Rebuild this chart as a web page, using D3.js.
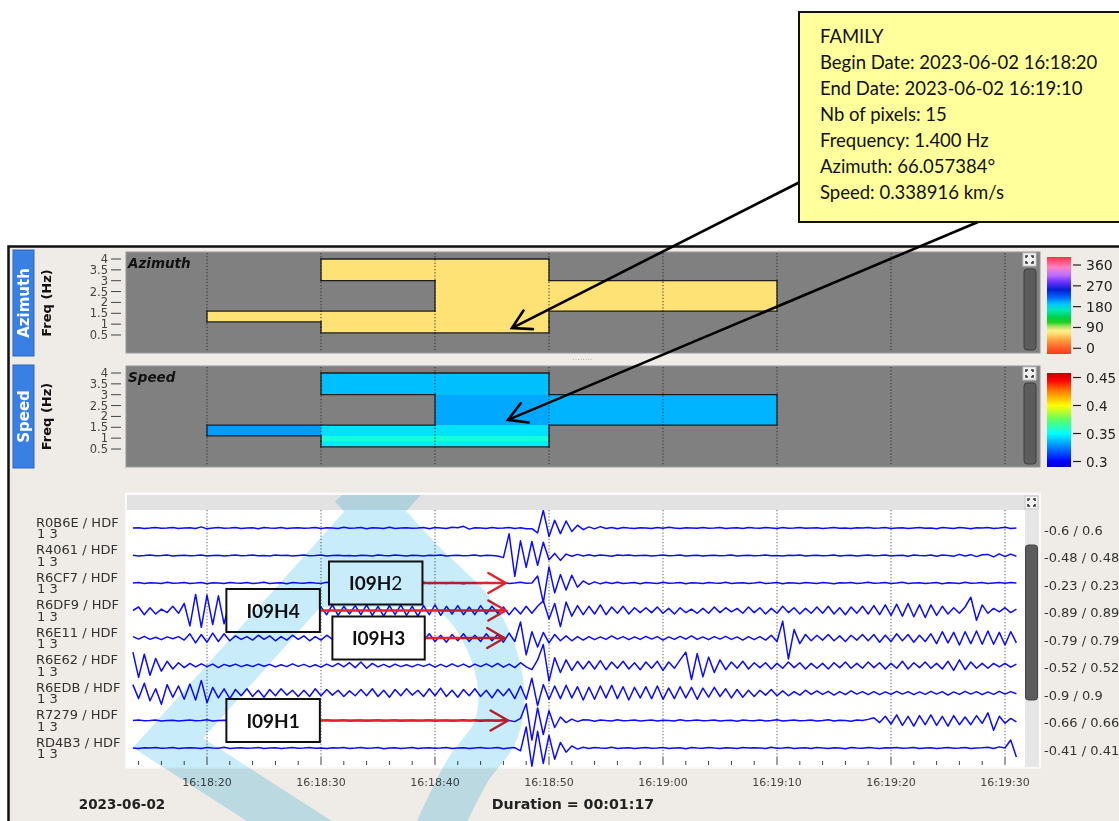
<!DOCTYPE html>
<html>
<head>
<meta charset="utf-8">
<script src="https://cdn.jsdelivr.net/npm/d3@7"></script>
<style>
  html, body { margin: 0; padding: 0; background: #ffffff; }
  svg { display: block; }
</style>
</head>
<body>
<svg id="chart" width="1119" height="821"></svg>
<script>
// ---------------------------------------------------------------
// Data
// ---------------------------------------------------------------
const dayLabel = "2023-06-02";
const durationLabel = "Duration = 00:01:17";
const timeTickLabels = ["16:18:20", "16:18:30", "16:18:40", "16:18:50",
                        "16:19:00", "16:19:10", "16:19:20", "16:19:30"];
const freqTicks = [0.5, 1, 1.5, 2, 2.5, 3, 3.5, 4];

// time-frequency pixels of the detected family
const binStarts = ["16:18:20", "16:18:30", "16:18:40", "16:18:50", "16:19:00"];
const binSeconds = 10;
const bandEdges = [0.6, 0.85, 1.1, 1.6, 3.0, 4.0];       // Hz
const cellBin     = [0, 1, 1, 1, 1, 2, 2, 2, 2, 2, 3, 4];
const cellBand    = [2, 4, 2, 1, 0, 4, 3, 2, 1, 0, 3, 3];
const cellAzimuth = [66, 66, 66, 65, 66, 66, 66, 66, 65, 66, 66, 66];          // degrees
const cellSpeed   = [0.3305, 0.3374, 0.3441, 0.3555, 0.3465, 0.3374,
                     0.3329, 0.3441, 0.3555, 0.3465, 0.3352, 0.3352];          // km/s

const azimuthTicks = [0, 90, 180, 270, 360];
const speedTicks = [0.3, 0.35, 0.4, 0.45];

// waveform channels
const stations = ["R0B6E", "R4061", "R6CF7", "R6DF9", "R6E11", "R6E62", "R6EDB", "R7279", "RD4B3"];
const channelLabel = "HDF";
const channelSub = "1 3";
const clipRanges = [0.6, 0.48, 0.23, 0.89, 0.79, 0.52, 0.9, 0.66, 0.41];
const traceStart = "16:18:13.5";
const traceStep = 0.5; // seconds between samples
// samples in percent of each channel's clip range
const trace_R0B6E = [0,2,-3,0,4,-2,0,3,-4,0, 2,-3,8,-6,0,3,-2,0,4,-3, 0,2,-5,3,0,-2,4,-3,0,2,
  -2,0,3,-4,2,0,-3,5,-2,0, 3,-5,2,0,-3,6,-4,0,2,-2, 0,4,-5,3,0,-3,5,2,12,-8,
  2,0,-3,4,-2,0,3,-4,2,-5, -5,-35,125,-60,55,-40,50,-25,20,-12, 8,-6,10,-4,3,-5,4,0,-3,2,
  0,-4,3,-2,5,0,-3,2,0,-2, 3,-2,0,4,-3,0,2,-4,3,0, -2,3,0,-3,4,-2,0,3,-2,0,
  2,-3,0,4,-2,0,-3,2,0,3, -2,0,3,-3,0,2,-4,0,3,-2, 0,-5,3,0,-3,4,0,-5,2,0, 3,-4,0,5,-3,0];
const trace_R4061 = [2,-3,0,4,-2,0,3,-3,0,2, -2,0,3,-4,0,2,-3,0,4,-2, 0,3,-2,0,-4,3,0,2,-3,0,
  3,-2,0,4,-3,0,2,-2,0,-3, 2,0,-3,4,0,-2,3,0,-4,2, 0,-3,2,0,4,-3,0,2,-2,0,
  3,-4,2,0,-3,-15,155,-150,105,-85, 100,-70,95,-30,15,-35,10,-5,8,-3, 5,-4,3,0,-5,4,0,3,-2,0,
  2,-3,0,4,-2,0,3,-3,0,2, -3,0,2,-2,0,4,-3,0,2,-2, 0,3,-2,0,-3,2,0,4,-3,0,
  2,-2,0,3,-4,0,2,-3,0,3, -2,0,4,-3,0,2,-5,3,0,-2, 4,-6,3,0,-5,8,-4,6,-8,5, 8,-10,12,-8,10,-5];
const trace_R6CF7 = [0,3,-4,2,0,-3,5,-2,0,3, -3,0,4,-5,2,0,-3,4,0,-2, 3,-4,0,5,-3,0,2,-5,3,0,
  -2,4,0,-3,5,-2,0,3,-4,0, 4,-3,0,2,-5,3,0,-2,4,-3, 0,5,-3,0,2,-4,3,0,-5,2,
  0,-3,4,0,-2,3,-4,0,5,-2, 0,50,-140,115,-70,60,-50,55,-30,15, -10,8,-6,5,-4,6,-3,0,4,-5,
  3,0,-4,5,-2,0,3,-5,2,0, -3,4,0,-2,5,-3,0,2,-4,0, 5,-3,0,4,-5,2,0,-3,4,0,
  -4,3,0,-5,2,0,3,-4,0,5, -2,0,4,-3,0,5,-4,0,2,-3, 0,4,-5,2,0,-3,5,-2,0,3, -4,0,3,-2,4,0];
const trace_R6DF9 = [0,25,-30,20,-25,10,-15,30,-20,50, -110,115,-120,110,-100,105,-95,70,-60,50,
  -40,45,-35,40,-45,30,-40,35,-30,40, -35,30,-40,25,-30,40,-35,30,-25,35,
  -30,40,-35,30,-40,35,-30,40,-35,30, -40,35,-30,40,-35,30,-25,35,-30,25,
  -30,35,-25,30,-20,25,-30,20,-25,30, -20,30,70,-60,50,-115,60,-40,35,-30,
  30,-25,40,-30,25,-20,30,-25,20,-15, 20,-15,25,-20,15,-25,20,-15,10,-20,
  15,-20,25,-15,20,-10,15,-20,25,-15, 20,-25,15,-20,30,-15,20,-25,15,-20,
  25,-20,30,-25,20,-30,25,-20,30,-25, 35,-30,40,-35,45,-40,50,-45,40,-50,
  40,-35,30,-25,20,-20,25,95,-70,40, -20,15,-10,20,-15,10];
const trace_R6E11 = [10,-8,12,-10,5,-12,8,-5,10,-15, 30,-35,25,-30,35,-25,30,-20,15,-10,
  10,-15,20,-10,15,-20,10,-15,20,-10, 15,-20,10,-15,20,-10,15,-20,25,-15,
  20,-15,10,-20,15,-25,20,-10,15,-20, 25,-20,30,-25,20,-30,25,-20,30,-25,
  20,-25,30,-20,25,-30,35,-25,115,-120, 45,-65,40,-35,25,-20,15,-20,10,-15,
  10,-12,8,-10,15,-8,10,-12,8,-10, 12,-8,10,-15,8,-10,12,-8,15,-10,
  8,-12,10,-8,12,-10,8,-15,10,-12, 10,-15,20,-25,120,-150,60,-40,25,-20,
  20,-15,25,-20,15,-25,20,-15,25,-20, 25,-30,20,-25,30,-20,25,-30,20,-25,
  30,-40,45,-35,40,-50,45,-40,50,-45, 50,-45,40,-50,45,-35];
const trace_R6E62 = [95,-85,80,-70,50,-40,30,-25,20,-15, 15,-10,12,-8,10,-15,8,-5,10,-8,
  5,-8,10,-5,8,-10,5,-8,12,-6, 8,-10,5,-12,10,-8,15,-10,20,-15,
  25,-20,15,-10,8,-12,10,-8,5,-10, 8,-6,10,-12,8,-10,12,-8,10,-12,
  10,-8,12,-10,15,-12,10,-15,20,-10, -30,40,150,-110,55,-50,40,-35,30,-25,
  30,-25,35,-30,25,-20,30,-25,20,-30, 25,-20,30,-35,25,-20,40,95,-100,85,
  -80,60,-50,40,-30,25,-20,30,-25,20, -15,20,-25,15,-20,25,-15,20,-25,15,
  -20,15,-25,20,-15,25,-20,15,-20,25, -15,20,-25,15,-20,30,-25,20,-15,25,
  -20,15,-25,30,-35,40,-30,25,-20,15, -20,15,-10,15,-12,10];
const trace_R6EDB = [60,-40,70,-55,30,-80,60,-30,50,-45, 65,-50,90,-70,40,-35,30,-40,25,-20,
  30,-25,20,-30,25,-20,30,-15,20,-25, 20,-25,30,-20,25,-15,20,-25,15,-20,
  25,-20,30,-25,20,-30,25,-20,30,-15, 20,-25,30,-20,35,-25,20,-30,25,-20,
  30,-25,20,-35,25,-20,30,-40,50,-45, 105,-90,60,-45,50,-40,55,-35,45,-50,
  40,-45,50,-35,55,-40,45,-50,40,-35, 45,-40,50,-45,35,-40,45,-35,40,-45,
  35,-30,40,-25,30,-35,25,-30,20,-25, 20,-15,25,-20,15,-20,10,-15,20,-10,
  15,-10,12,-15,10,-12,15,-8,10,-12, 10,-12,8,-10,12,-8,10,-12,8,-10,
  12,-8,10,-15,8,-10,12,-8,10,-12, 8,-10,12,-8,10,-5];
const trace_R7279 = [0,3,-2,0,4,-3,0,2,-4,0, 3,-2,0,5,-3,0,2,-2,0,3, -3,0,2,-4,0,3,-2,0,4,-3,
  0,2,-3,0,4,-2,0,3,-3,0, 2,-4,0,3,-2,0,4,-3,0,2, -2,0,3,-4,0,2,-3,0,5,-2,
  3,-5,2,0,-4,3,0,-8,15,120, -140,90,-100,70,-50,25,-15,10,-8,5, 3,-6,4,0,-3,5,-2,0,4,-3,
  0,3,-4,2,0,-3,5,-2,0,3, -2,0,4,-3,0,2,-5,3,0,-2, 4,-3,0,5,-4,0,3,-2,0,4,
  -3,0,5,-4,2,0,-6,4,0,8, 20,-15,30,-25,40,-35,30,-40,35,-30,
  40,-35,30,-40,35,-30,25,-30,35,-20, 55,-70,30,-20,15,-10];
const trace_RD4B3 = [0,-3,2,0,4,-2,0,3,-3,0, 2,0,-4,3,0,-2,5,-3,0,2, -2,0,3,-4,0,2,-3,0,4,-2,
  0,3,-2,0,-4,2,0,3,-3,0, 4,-2,0,3,-5,0,2,-3,0,4, -3,0,2,-2,0,4,-3,0,2,-4,
  0,3,-2,0,4,-5,0,3,-20,150, -130,120,-110,90,-80,40,-30,15,-8,5, -4,3,0,-2,5,-3,0,2,-4,0,
  3,-2,0,4,-3,0,2,-5,3,0, -2,4,0,-3,2,0,-4,3,0,2, 0,-3,5,-2,0,3,-4,0,2,-3,
  4,0,-3,2,0,-5,3,0,-2,4, 0,-3,2,0,4,-2,0,3,-4,0, 2,-3,0,4,-2,0,3,-3,0,2, 5,-3,8,0,57,-64];
const traces = [trace_R0B6E, trace_R4061, trace_R6CF7, trace_R6DF9, trace_R6E11,
                trace_R6E62, trace_R6EDB, trace_R7279, trace_RD4B3];

// picked arrivals: label, channel index, box span (time), arrow tip (time)
const pickLabels = ["I09H2", "I09H4", "I09H3", "I09H1"];
const pickChannel = [2, 3, 4, 7];
const pickBoxFrom = ["16:18:30.7", "16:18:21.7", "16:18:31.0", "16:18:21.7"];
const pickBoxTo   = ["16:18:38.9", "16:18:29.9", "16:18:39.1", "16:18:29.9"];
const pickTip     = ["16:18:46.2", "16:18:46.2", "16:18:46.1", "16:18:46.4"];

// family summary
const calloutLines = ["FAMILY",
  "Begin Date: 2023-06-02 16:18:20",
  "End Date: 2023-06-02 16:19:10",
  "Nb of pixels: 15",
  "Frequency: 1.400 Hz",
  "Azimuth: 66.057384\u00B0",
  "Speed: 0.338916 km/s"];
// where the two pointers land: [time, frequency]
const pointerAzimuth = ["16:18:46.75", 0.82];
const pointerSpeed = ["16:18:46.4", 1.84];

// ---------------------------------------------------------------
// Helpers & scales
// ---------------------------------------------------------------
const secs = s => { const p = s.split(":").map(Number); return p[0] * 3600 + p[1] * 60 + p[2]; };
const svg = d3.select("#chart");
const sans = "'DejaVu Sans', sans-serif";
const office = "Lato, 'Open Sans', sans-serif";

const x = d3.scaleLinear()
  .domain([secs("16:18:20"), secs("16:19:30")])
  .range([207, 1005]);

const PANEL_L = 126, PANEL_R = 1040, PANEL_H = 101;
const freqScale = top => d3.scaleLinear().domain([0.5, 4]).range([top + 83, top + 7]);

// colour maps
const azStops = [[-30, "#ff3a18"], [0, "#ff5a28"], [36, "#ffa040"], [60, "#ffd868"],
  [75, "#fff08c"], [95, "#a8e064"], [112, "#20d020"], [131, "#00d040"], [165, "#00e8b0"],
  [191, "#00c8ff"], [222, "#0060ff"], [252, "#0020d0"], [286, "#6a30ff"], [317, "#c070ff"],
  [351, "#ff80c0"], [395, "#ff3048"]];
const spStops = [[0.289, "#0000d0"], [0.3, "#0000ff"], [0.325, "#0080ff"], [0.35, "#00ffff"],
  [0.375, "#60ff60"], [0.4, "#ffff00"], [0.425, "#ff8000"], [0.445, "#ff0000"], [0.457, "#c00000"]];
const azColor = d3.scaleLinear().domain(azStops.map(d => d[0])).range(azStops.map(d => d[1]))
  .interpolate(d3.interpolateRgb).clamp(true);
const spColor = d3.scaleLinear().domain(spStops.map(d => d[0])).range(spStops.map(d => d[1]))
  .interpolate(d3.interpolateRgb).clamp(true);

const defs = svg.append("defs");

// ---------------------------------------------------------------
// Window frame
// ---------------------------------------------------------------
svg.append("rect").attr("x", 8.5).attr("y", 246.5).attr("width", 1125).attr("height", 590)
  .attr("fill", "#efebe7").attr("stroke", "#111").attr("stroke-width", 2.5);

// side tabs
function tab(top, h, label) {
  svg.append("rect").attr("x", 13).attr("y", top).attr("width", 21).attr("height", h)
    .attr("fill", "#3a80e4").attr("stroke", "#2b67c6").attr("stroke-width", 1);
  svg.append("text").attr("transform", `translate(29,${top + h / 2}) rotate(-90)`)
    .attr("text-anchor", "middle").attr("font-family", sans).attr("font-weight", "bold")
    .attr("font-size", 15).attr("fill", "#fff").text(label);
  svg.append("text").attr("transform", `translate(51,${top + h / 2}) rotate(-90)`)
    .attr("text-anchor", "middle").attr("font-family", sans).attr("font-weight", "bold")
    .attr("font-size", 13).attr("fill", "#111").text("Freq (Hz)");
}

function expandIcon(x0, y0) {
  const g = svg.append("g");
  g.append("rect").attr("x", x0).attr("y", y0).attr("width", 13).attr("height", 13)
    .attr("fill", "#f1f1f1").attr("stroke", "#c8c8c8");
  const c = [[x0 + 3, y0 + 5, x0 + 3, y0 + 3, x0 + 5, y0 + 3], [x0 + 8, y0 + 3, x0 + 10, y0 + 3, x0 + 10, y0 + 5],
             [x0 + 3, y0 + 8, x0 + 3, y0 + 10, x0 + 5, y0 + 10], [x0 + 8, y0 + 10, x0 + 10, y0 + 10, x0 + 10, y0 + 8]];
  c.forEach(p => g.append("path").attr("d", `M${p[0]},${p[1]}L${p[2]},${p[3]}L${p[4]},${p[5]}`)
    .attr("fill", "none").attr("stroke", "#333").attr("stroke-width", 1.6));
}

// ---------------------------------------------------------------
// Azimuth / Speed panels
// ---------------------------------------------------------------
const cellKey = new Set(cellBin.map((b, i) => b + "-" + cellBand[i]));

function panel(top, title, values, colour) {
  const y = freqScale(top);
  const g = svg.append("g");
  g.append("rect").attr("x", PANEL_L).attr("y", top).attr("width", PANEL_R - PANEL_L)
    .attr("height", PANEL_H).attr("fill", "#808080").attr("stroke", "#9a9a9a").attr("stroke-width", 1);

  // pixels
  const cells = cellBin.map((b, i) => ({
    t0: secs(binStarts[b]), t1: secs(binStarts[b]) + binSeconds,
    f0: bandEdges[cellBand[i]], f1: bandEdges[cellBand[i] + 1],
    bin: b, band: cellBand[i], v: values[i]
  }));
  g.selectAll("rect.cell").data(cells).join("rect").attr("class", "cell")
    .attr("x", d => x(d.t0)).attr("width", d => x(d.t1) - x(d.t0))
    .attr("y", d => y(d.f1)).attr("height", d => y(d.f0) - y(d.f1))
    .attr("fill", d => colour(d.v)).attr("shape-rendering", "crispEdges");

  // outline of the family footprint
  const edges = [];
  cells.forEach(d => {
    const X0 = x(d.t0), X1 = x(d.t1), Y0 = y(d.f1), Y1 = y(d.f0);
    if (!cellKey.has((d.bin - 1) + "-" + d.band)) edges.push([X0, Y0, X0, Y1]);
    if (!cellKey.has((d.bin + 1) + "-" + d.band)) edges.push([X1, Y0, X1, Y1]);
    if (!cellKey.has(d.bin + "-" + (d.band + 1))) edges.push([X0, Y0, X1, Y0]);
    if (!cellKey.has(d.bin + "-" + (d.band - 1))) edges.push([X0, Y1, X1, Y1]);
  });
  g.selectAll("line.edge").data(edges).join("line").attr("class", "edge")
    .attr("x1", d => d[0]).attr("y1", d => d[1]).attr("x2", d => d[2]).attr("y2", d => d[3])
    .attr("stroke", "#1e1e1e").attr("stroke-width", 1.3).attr("stroke-linecap", "square");

  // time grid
  g.selectAll("line.grid").data(timeTickLabels).join("line").attr("class", "grid")
    .attr("x1", d => x(secs(d))).attr("x2", d => x(secs(d)))
    .attr("y1", top + 1).attr("y2", top + PANEL_H - 1)
    .attr("stroke", "#2b2b2b").attr("stroke-width", 1).attr("stroke-dasharray", "1.2,2");

  // frequency axis
  const ax = svg.append("g");
  ax.selectAll("line").data(freqTicks).join("line")
    .attr("x1", 111).attr("x2", 121).attr("y1", d => y(d)).attr("y2", d => y(d))
    .attr("stroke", "#444").attr("stroke-width", 1);
  ax.selectAll("text").data(freqTicks).join("text")
    .attr("x", 108).attr("y", d => y(d) + 4).attr("text-anchor", "end")
    .attr("font-family", sans).attr("font-size", 11.5).attr("fill", "#444").text(d => d);

  g.append("text").attr("x", 128).attr("y", top + 16).attr("font-family", sans)
    .attr("font-weight", "bold").attr("font-style", "italic").attr("font-size", 13.5)
    .attr("fill", "#111").text(title);

  // scroll column
  expandIcon(1023, top + 1);
  g.append("rect").attr("x", 1024).attr("y", top + 17).attr("width", 12).attr("height", 81)
    .attr("rx", 3).attr("fill", "#5c5c5c").attr("stroke", "#3e3e3e");
}

tab(250, 106, "Azimuth");
tab(365, 103, "Speed");
panel(252, "Azimuth", cellAzimuth, azColor);
panel(366, "Speed", cellSpeed, spColor);

// splitter grip between the two panels
svg.append("line").attr("x1", 573).attr("x2", 593).attr("y1", 359.5).attr("y2", 359.5)
  .attr("stroke", "#b9b5b0").attr("stroke-dasharray", "1,1.5");

// ---------------------------------------------------------------
// Colour bars
// ---------------------------------------------------------------
function colourBar(id, stops, top, bottom, tickScale, ticks, fontSize) {
  const grad = defs.append("linearGradient").attr("id", id)
    .attr("x1", 0).attr("y1", 1).attr("x2", 0).attr("y2", 0);
  const vBot = tickScale.invert(bottom), vTop = tickScale.invert(top);
  stops.forEach(s => grad.append("stop")
    .attr("offset", Math.max(0, Math.min(1, (s[0] - vBot) / (vTop - vBot))))
    .attr("stop-color", s[1]));
  svg.append("rect").attr("x", 1047).attr("y", top).attr("width", 24).attr("height", bottom - top)
    .attr("fill", `url(#${id})`);
  const g = svg.append("g");
  g.selectAll("line").data(ticks).join("line")
    .attr("x1", 1073).attr("x2", 1081).attr("y1", d => tickScale(d)).attr("y2", d => tickScale(d))
    .attr("stroke", "#222").attr("stroke-width", 1.2);
  g.selectAll("text").data(ticks).join("text")
    .attr("x", 1086).attr("y", d => tickScale(d) + 5).attr("font-family", sans)
    .attr("font-size", fontSize).attr("fill", "#222").text(d => d);
}
colourBar("azGrad", azStops, 257, 354, d3.scaleLinear().domain([0, 360]).range([348.3, 265]), azimuthTicks, 14);
colourBar("spGrad", spStops, 373, 467, d3.scaleLinear().domain([0.3, 0.45]).range([461.5, 377.5]), speedTicks, 13.5);

// ---------------------------------------------------------------
// Waveform panel
// ---------------------------------------------------------------
const W_TOP = 510, W_BOT = 767, W_L = 127, W_R = 1025;
svg.append("rect").attr("x", 125).attr("y", 492.5).attr("width", 916).attr("height", 276)
  .attr("fill", "#fbfbfb");
svg.append("rect").attr("x", W_L).attr("y", 495).attr("width", W_R - W_L).attr("height", 15)
  .attr("fill", "#e2e2e2");
svg.append("rect").attr("x", W_L).attr("y", W_TOP).attr("width", W_R - W_L).attr("height", W_BOT - W_TOP)
  .attr("fill", "#ffffff");
svg.append("rect").attr("x", W_R).attr("y", 495).attr("width", 14).attr("height", 272)
  .attr("fill", "#e6e6e6");
expandIcon(1025, 496);
svg.append("rect").attr("x", 1025.5).attr("y", 545).attr("width", 12).attr("height", 155)
  .attr("rx", 3).attr("fill", "#5c5c5c").attr("stroke", "#454545");

// grid
svg.append("g").selectAll("line").data(timeTickLabels).join("line")
  .attr("x1", d => x(secs(d))).attr("x2", d => x(secs(d)))
  .attr("y1", W_TOP).attr("y2", 757)
  .attr("stroke", "#555").attr("stroke-width", 1).attr("stroke-dasharray", "1.2,2");

// time ticks every 2 s, long ones every 10 s
const minor = d3.range(secs("16:18:14"), secs("16:19:31"), 2);
svg.append("g").selectAll("line").data(minor).join("line")
  .attr("x1", d => x(d)).attr("x2", d => x(d))
  .attr("y1", d => ((d - secs("16:18:20")) % 10 === 0) ? 757 : 761).attr("y2", 765)
  .attr("stroke", "#444").attr("stroke-width", 1);
svg.append("g").selectAll("text").data(timeTickLabels).join("text")
  .attr("x", d => x(secs(d))).attr("y", 786).attr("text-anchor", "middle")
  .attr("font-family", sans).attr("font-size", 11).attr("fill", "#444").text(d => d);

// traces
const baseY = d3.scaleLinear().domain([0, stations.length - 1]).range([528, 748]);
const AMP = 14; // px per 100 % of the clip range
const t0 = secs(traceStart);
defs.append("clipPath").attr("id", "wclip").append("rect")
  .attr("x", W_L).attr("y", W_TOP).attr("width", W_R - W_L).attr("height", W_BOT - W_TOP);
const traceG = svg.append("g").attr("clip-path", "url(#wclip)");
traces.forEach((tr, k) => {
  const line = d3.line().x((v, i) => x(t0 + i * traceStep)).y(v => baseY(k) - v / 100 * AMP);
  traceG.append("path").attr("d", line(tr)).attr("fill", "none")
    .attr("stroke", "#0b0bff").attr("stroke-width", 1.5).attr("stroke-linejoin", "round");
});

// channel labels
const lab = svg.append("g").attr("font-family", sans).attr("font-size", 13).attr("fill", "#333");
stations.forEach((s, k) => {
  lab.append("text").attr("x", 36).attr("y", baseY(k) - 1.5).text(`${s} / ${channelLabel}`);
  lab.append("text").attr("x", 37).attr("y", baseY(k) + 10).text(channelSub);
  lab.append("text").attr("x", 1044).attr("y", baseY(k) + 6.5).text(`-${clipRanges[k]} / ${clipRanges[k]}`);
});

svg.append("text").attr("x", 122).attr("y", 809).attr("text-anchor", "middle")
  .attr("font-family", sans).attr("font-weight", "bold").attr("font-size", 13.5)
  .attr("fill", "#222").text(dayLabel);
svg.append("text").attr("x", 573).attr("y", 809).attr("text-anchor", "middle")
  .attr("font-family", sans).attr("font-weight", "bold").attr("font-size", 14.2)
  .attr("fill", "#222").text(durationLabel);

// ---------------------------------------------------------------
// Picked arrivals
// ---------------------------------------------------------------
function vHead(g, tipX, tipY, ang, len, spread, colour, width) {
  // ang: direction from the tip back along the shaft
  const a1 = ang + spread, a2 = ang - spread;
  g.append("path")
    .attr("d", `M${tipX + len * Math.cos(a1)},${tipY + len * Math.sin(a1)}L${tipX},${tipY}` +
               `L${tipX + len * Math.cos(a2)},${tipY + len * Math.sin(a2)}`)
    .attr("fill", "none").attr("stroke", colour).attr("stroke-width", width)
    .attr("stroke-linecap", "round").attr("stroke-linejoin", "miter");
}
const picks = svg.append("g");
pickLabels.forEach((lbl, i) => {
  const cy = baseY(pickChannel[i]);
  const bx0 = x(secs(pickBoxFrom[i])), bx1 = x(secs(pickBoxTo[i]));
  const tip = x(secs(pickTip[i]));
  picks.append("line").attr("x1", bx1).attr("x2", tip - 1).attr("y1", cy).attr("y2", cy)
    .attr("stroke", "#e8202a").attr("stroke-width", 2.6);
  vHead(picks, tip, cy, Math.PI, 20, 0.52, "#e8202a", 2.4);
  picks.append("rect").attr("x", bx0).attr("y", cy - 21.5).attr("width", bx1 - bx0).attr("height", 43)
    .attr("fill", "#fff").attr("stroke", "#111").attr("stroke-width", 2);
  const t = picks.append("text").attr("x", (bx0 + bx1) / 2).attr("y", cy + 7)
    .attr("text-anchor", "middle").attr("font-family", office).attr("font-size", 19)
    .attr("font-weight", "bold").attr("fill", "#111");
  if (lbl === "I09H2") {
    t.append("tspan").text(lbl.slice(0, 4));
    t.append("tspan").attr("font-weight", "normal").text(lbl.slice(4));
  } else {
    t.text(lbl);
  }
});

// ---------------------------------------------------------------
// Watermark logo over the waveform area
// ---------------------------------------------------------------
const WM = "#c8ecf9";
defs.append("clipPath").attr("id", "wmclip").append("rect")
  .attr("x", 0).attr("y", 495).attr("width", 1119).attr("height", 330);
const wm = svg.append("g").attr("clip-path", "url(#wmclip)")
  .style("mix-blend-mode", "multiply");
const logo = wm.append("g");
// chevron
logo.append("path").attr("d", "M405,478L168,743L322,842")
  .attr("fill", "none").attr("stroke", WM).attr("stroke-width", 46)
  .attr("stroke-linejoin", "miter").attr("stroke-miterlimit", 10);
// crescent
logo.append("path")
  .attr("d", d3.line().curve(d3.curveCatmullRom)([[352, 486], [420, 560], [476, 618], [500, 680],
        [496, 730], [468, 770], [438, 830]]))
  .attr("fill", "none").attr("stroke", WM).attr("stroke-width", 46);
// web between the two strokes near the top
logo.append("path").attr("d", "M384,496L446,607L318,607Z").attr("fill", WM);

// ---------------------------------------------------------------
// Family callout
// ---------------------------------------------------------------
const yAz = freqScale(252), ySp = freqScale(366);
const pointers = [
  { from: [800, 182], to: [x(secs(pointerAzimuth[0])), yAz(pointerAzimuth[1])] },
  { from: [978, 222], to: [x(secs(pointerSpeed[0])), ySp(pointerSpeed[1])] }
];
const pg = svg.append("g");
pointers.forEach(p => {
  pg.append("line").attr("x1", p.from[0]).attr("y1", p.from[1]).attr("x2", p.to[0]).attr("y2", p.to[1])
    .attr("stroke", "#000").attr("stroke-width", 2.6);
  const ang = Math.atan2(p.from[1] - p.to[1], p.from[0] - p.to[0]);
  vHead(pg, p.to[0], p.to[1], ang, 21, 0.52, "#000", 2.6);
});
svg.append("rect").attr("x", 799).attr("y", 12).attr("width", 340).attr("height", 210)
  .attr("fill", "#ffff9c").attr("stroke", "#111").attr("stroke-width", 2);
svg.append("g").selectAll("text").data(calloutLines).join("text")
  .attr("x", 820).attr("y", (d, i) => 43 + i * 26)
  .attr("font-family", office).attr("font-size", 18.5).attr("fill", "#111").text(d => d);
</script>
</body>
</html>
